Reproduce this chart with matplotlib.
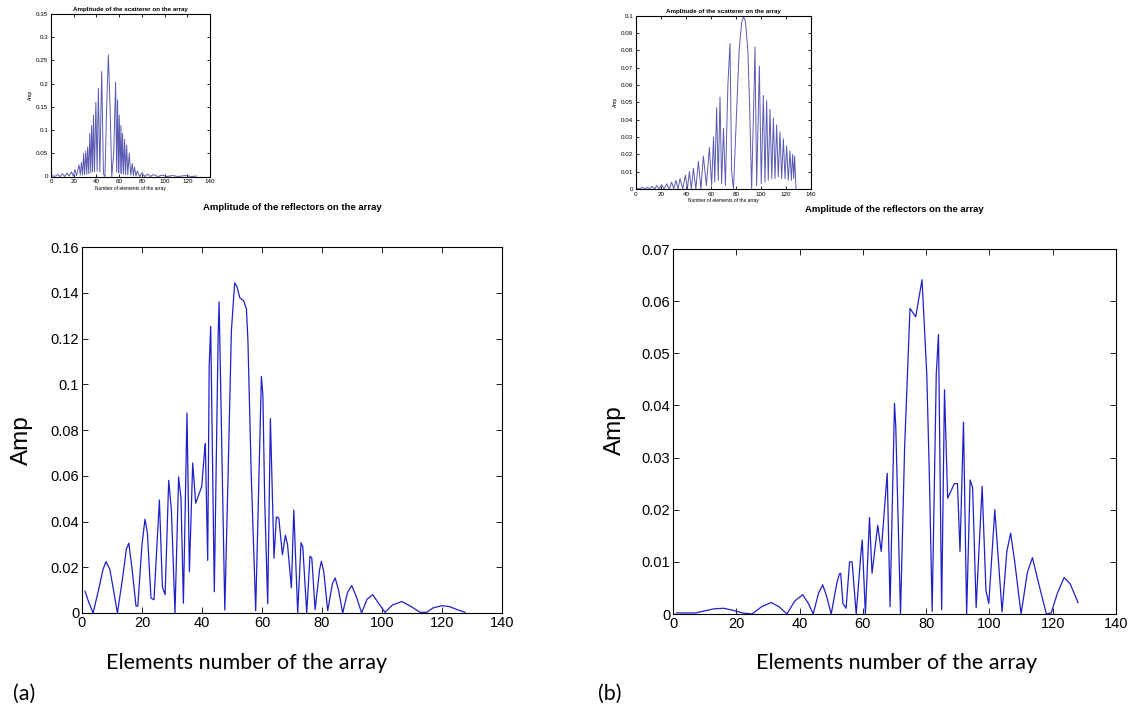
import matplotlib
matplotlib.use("Agg")
import matplotlib.pyplot as plt
from matplotlib.ticker import FuncFormatter

W, H = 1133, 712

# main plot (a): amplitude of the reflectors
a_x = [1, 2.3, 3.7, 5.5, 7, 8, 9.3, 10.5, 11.8, 13.5, 14.8, 15.6, 16.8, 18.0, 18.6, 20, 21, 21.8,
       23, 24, 25.8, 26.8, 27.7, 28.9, 29.8, 31, 32.2, 33.0, 33.8, 35, 35.8, 36.9, 37.9, 39.9,
       40.8, 41.1, 41.9, 42.4, 42.9, 44.1, 45.4, 45.7, 47.6, 48.7, 49.8, 50.9, 51.7, 52.6, 53.9,
       54.8, 55.3, 56.4, 57.9, 59.8, 60.3, 60.9, 61.9, 62.8, 64.0, 64.8, 65.6, 66.8, 67.8, 68.5,
       69.8, 70.6, 71.9, 73.0, 73.6, 74.9, 76.0, 76.6, 77.7, 79.2, 79.8, 80.6, 81.9, 83.5, 84.4,
       85.5, 86.9, 88.5, 89.9, 91.5, 93.2, 95, 96.9, 99, 101, 103.5, 106.6, 109.5, 112.7, 114.9,
       117, 119.9, 122.5, 125, 127.7]
a_y = [0.0095, 0.0045, 0.0, 0.010, 0.019, 0.0225, 0.019, 0.010, 0.0, 0.015, 0.028, 0.0305, 0.018,
       0.003, 0.003, 0.030, 0.041, 0.035, 0.0065, 0.0058, 0.0494, 0.0115, 0.008, 0.058, 0.045, 0.0,
       0.0595, 0.05, 0.0043, 0.0874, 0.018, 0.0656, 0.048, 0.0553, 0.070, 0.074, 0.023, 0.108,
       0.1253, 0.0093, 0.1225, 0.136, 0.0013, 0.0606, 0.1235, 0.1443, 0.1425, 0.1378, 0.1365,
       0.133, 0.1195, 0.061, 0.001, 0.1034, 0.095, 0.0494, 0.004, 0.085, 0.024, 0.042, 0.0415,
       0.0255, 0.034, 0.030, 0.011, 0.045, 0.0, 0.0307, 0.029, 0.0, 0.0248, 0.024, 0.0015, 0.019,
       0.0226, 0.018, 0.001, 0.013, 0.0153, 0.010, 0.0, 0.009, 0.012, 0.007, 0.0, 0.006, 0.008,
       0.004, 0.0003, 0.0035, 0.005, 0.003, 0.0003, 0.0003, 0.0022, 0.0032, 0.0028, 0.0015, 0.0003]

# main plot (b)
b_x = [1, 7, 10, 13, 16, 19, 22, 25, 28, 31, 33.5, 36, 38.5, 41, 42.8, 44.3, 46, 47.3, 48.5, 50,
       51.8, 52.6, 53, 53.7, 54.7, 55.8, 56.6, 57.9, 59.3, 59.8, 60.8, 62.1, 62.9, 64.7, 65.8,
       67.7, 68.6, 70.0, 70.4, 71.9, 73.2, 74.9, 76.7, 78.7, 80.2, 81.0, 81.9, 83.2, 83.9, 84.9,
       85.8, 86.8, 88.9, 89.9, 90.7, 91.8, 92.8, 93.9, 94.7, 95.8, 97.7, 98.9, 99.8, 101.7, 104,
       105.5, 106.7, 108, 110, 112, 113.6, 115.5, 118, 119.5, 121.5, 123.6, 125.5, 128]
b_y = [0.0002, 0.0002, 0.0006, 0.001, 0.0011, 0.0007, 0.0002, 0.0, 0.0014, 0.0022, 0.0014, 0.0,
       0.0025, 0.0037, 0.002, 0.0, 0.004, 0.0056, 0.0035, 0.0, 0.006, 0.0077, 0.0078, 0.002,
       0.0011, 0.010, 0.010, 0.0, 0.011, 0.0142, 0.0, 0.0185, 0.0078, 0.017, 0.012, 0.027, 0.0014,
       0.0404, 0.036, 0.0, 0.032, 0.0586, 0.057, 0.0641, 0.046, 0.027, 0.0005, 0.046, 0.0536,
       0.0008, 0.043, 0.0222, 0.025, 0.025, 0.012, 0.0368, 0.0, 0.0257, 0.0242, 0.0012, 0.0245,
       0.0045, 0.002, 0.02, 0.0004, 0.012, 0.0155, 0.010, 0.0, 0.008, 0.0108, 0.006, 0.0, 0.0002,
       0.004, 0.007, 0.0058, 0.0022]

# inset (a): amplitude of the scatterer
ia_x = [1, 3, 6, 8, 10, 12, 14, 16, 18, 19.5, 21, 22.5, 24.7, 25.8, 26.8, 27.8, 28.7, 29.6, 30.6,
        31.5, 32.3, 33.2, 34.2, 35.0, 35.8, 36.6, 37.4, 38.3, 39.5, 40.6, 41.7, 43.0, 44.6, 46.2,
        47.5, 49, 50.5, 52, 53.5, 55.2, 56.9, 57.8, 58.6, 59.4, 60.1, 60.9, 61.6, 62.3, 63.0,
        63.9, 64.8, 65.7, 66.6, 67.6, 68.9, 70.2, 71.5, 72.5, 73.5, 74.8, 76, 78, 80, 82.5, 85,
        87.5, 90, 94, 98, 102, 107, 112, 118, 124, 128]
ia_y = [0.002, 0.0, 0.004, 0.0, 0.006, 0.0, 0.007, 0.001, 0.01, 0.001, 0.015, 0.002, 0.025, 0.003,
        0.03, 0.003, 0.05, 0.004, 0.055, 0.005, 0.064, 0.006, 0.093, 0.008, 0.11, 0.01, 0.132,
        0.01, 0.16, 0.012, 0.19, 0.01, 0.226, 0.005, 0.0, 0.15, 0.262, 0.15, 0.0, 0.05, 0.204,
        0.01, 0.165, 0.008, 0.132, 0.007, 0.11, 0.006, 0.093, 0.005, 0.08, 0.004, 0.068, 0.004,
        0.05, 0.003, 0.028, 0.002, 0.02, 0.001, 0.012, 0.0, 0.008, 0.0, 0.005, 0.0, 0.004, 0.0,
        0.003, 0.0, 0.002, 0.0, 0.002, 0.0, 0.001]

# inset (b)
ib_x = [1, 3, 5, 7, 9, 11, 13, 15, 16.5, 18.5, 20.5, 22.5, 24.5, 26.5, 28.5, 30.2, 32, 33.6, 35.2,
        37.4, 39.5, 41.1, 42.7, 44.3, 45.9, 47.9, 49.9, 51.9, 53.9, 56.3, 58.7, 60.5, 62, 63,
        64.5, 65.8, 67.2, 68.5, 70, 71.5, 73.5, 75.2, 76.5, 78, 80.5, 82.5, 84.5, 86, 87.5, 89.5,
        91, 92.5, 94.2, 95.2, 96.5, 98.7, 100.2, 101.9, 103.2, 104.5, 105.8, 107.2, 108.6, 109.9,
        111.2, 112.5, 113.8, 115.2, 116.5, 117.9, 119.2, 120.5, 121.8, 123.2, 124.3, 125.3,
        126.2, 126.9, 128]
ib_y = [0.0005, 0.0, 0.001, 0.0, 0.001, 0.0, 0.0015, 0.0, 0.002, 0.0, 0.0025, 0.0, 0.003, 0.0,
        0.004, 0.0, 0.005, 0.0, 0.006, 0.0, 0.008, 0.0, 0.010, 0.0, 0.012, 0.0, 0.016, 0.0, 0.019,
        0.002, 0.024, 0.002, 0.03, 0.004, 0.047, 0.005, 0.053, 0.003, 0.035, 0.002, 0.06, 0.084,
        0.01, 0.0, 0.045, 0.08, 0.096, 0.0994, 0.097, 0.08, 0.045, 0.0, 0.05, 0.082, 0.002, 0.071,
        0.003, 0.054, 0.004, 0.051, 0.005, 0.046, 0.006, 0.041, 0.006, 0.037, 0.007, 0.033, 0.006,
        0.029, 0.006, 0.025, 0.005, 0.022, 0.005, 0.02, 0.006, 0.019, 0.0]

x_ticks = [0, 20, 40, 60, 80, 100, 120, 140]

TICK_FONT = ["Liberation Sans Narrow", "Liberation Sans"]
TEXT_FONT = "Liberation Sans"
LABEL_FONT = "Lato"


def rect(left, top, right, bottom):
    return [left / W, 1 - bottom / H, (right - left) / W, (bottom - top) / H]


def matlab_axes(ax, ymax, ystep, fsize, tlen):
    ax.set_xlim(0, 140)
    ax.set_ylim(0, ymax)
    ax.set_xticks(x_ticks)
    n = int(round(ymax / ystep))
    ax.set_yticks([i * ystep for i in range(n + 1)])
    ax.yaxis.set_major_formatter(FuncFormatter(lambda v, p: "%g" % round(v, 4)))
    ax.tick_params(direction="in", top=True, right=True, length=tlen, width=0.6,
                   labelsize=fsize, pad=2)
    for lab in ax.get_xticklabels() + ax.get_yticklabels():
        lab.set_fontfamily(TICK_FONT)
    for s in ax.spines.values():
        s.set_linewidth(0.8)


fig = plt.figure(figsize=(W / 100, H / 100), dpi=100)

# small insets
ax_ia = fig.add_axes(rect(51, 14, 210, 176.5))
ax_ia.plot(ia_x, ia_y, color="#5a5ab4", lw=0.7)
matlab_axes(ax_ia, 0.35, 0.05, 4.5, 2)
ax_ia.set_title("Amplitude of the scatterer on the array", fontsize=4.5, fontweight="bold",
                family=TEXT_FONT, pad=2)
ax_ia.set_ylabel("Amp", fontsize=3.5, family=TEXT_FONT, labelpad=2)
ax_ia.set_xlabel("Number of elements of the array", fontsize=3.5, family=TEXT_FONT, labelpad=1)

ax_ib = fig.add_axes(rect(636, 15.7, 811, 189))
ax_ib.plot(ib_x, ib_y, color="#5a5ab4", lw=0.7)
matlab_axes(ax_ib, 0.1, 0.01, 4.5, 2)
ax_ib.set_title("Amplitude of the scatterer on the array", fontsize=4.5, fontweight="bold",
                family=TEXT_FONT, pad=2)
ax_ib.set_ylabel("Amp", fontsize=3.5, family=TEXT_FONT, labelpad=2)
ax_ib.set_xlabel("Number of elements of the array", fontsize=3.5, family=TEXT_FONT, labelpad=1)

# main plots
ax_a = fig.add_axes(rect(82, 247, 502, 613))
ax_a.plot(a_x, a_y, color="#2020c8", lw=0.9)
matlab_axes(ax_a, 0.16, 0.02, 10.5, 4)
ax_a.set_title("Amplitude of the reflectors on the array", fontsize=6.8, fontweight="bold",
               family=TEXT_FONT, pad=27)

ax_b = fig.add_axes(rect(673, 249, 1116, 614))
ax_b.plot(b_x, b_y, color="#2020c8", lw=0.9)
matlab_axes(ax_b, 0.07, 0.01, 10.5, 4)
ax_b.set_title("Amplitude of the reflectors on the array", fontsize=6.8, fontweight="bold",
               family=TEXT_FONT, pad=27)

# big labels placed as figure text
fig.text(22 / W, 1 - 440 / H, "Amp", rotation=90, fontsize=17.5, family=TEXT_FONT,
         ha="center", va="center")
fig.text(615 / W, 1 - 430 / H, "Amp", rotation=90, fontsize=17.5, family=TEXT_FONT,
         ha="center", va="center")
fig.text(247 / W, 1 - 663 / H, "Elements number of the array", fontsize=15.5, family=LABEL_FONT,
         ha="center", va="center")
fig.text(897 / W, 1 - 663 / H, "Elements number of the array", fontsize=15.5, family=LABEL_FONT,
         ha="center", va="center")
fig.text(13 / W, 1 - 694 / H, "(a)", fontsize=15.5, family=LABEL_FONT, ha="left", va="center")
fig.text(598 / W, 1 - 694 / H, "(b)", fontsize=15.5, family=LABEL_FONT, ha="left", va="center")

fig.savefig("out.png", dpi=100)
